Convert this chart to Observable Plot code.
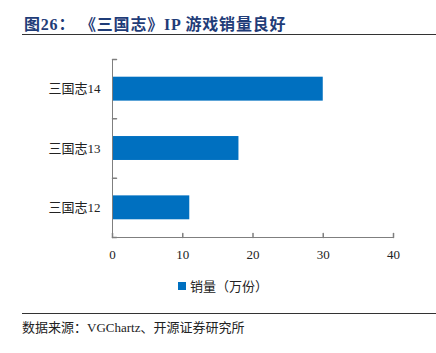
<!DOCTYPE html>
<html>
<head>
<meta charset="utf-8">
<script src="https://cdn.jsdelivr.net/npm/d3@7"></script>
<script src="https://cdn.jsdelivr.net/npm/@observablehq/plot@0.6"></script>
<style>
  html, body { margin: 0; padding: 0; background: #fff; }
  #wrap { position: relative; width: 436px; height: 353px; overflow: hidden; font-family: "Liberation Serif", "Noto Sans CJK SC", serif; }
  #title { position: absolute; left: 24px; top: 11px; font-size: 16px; font-weight: bold; color: #1f3c78; white-space: nowrap; letter-spacing: 0.8px; }
  .hr { position: absolute; left: 22px; right: 0; height: 1px; background: #333; }
  #chart { position: absolute; left: 0; top: 45px; }
  #legend { position: absolute; left: 178px; top: 276px; font-size: 13px; color: #222; white-space: nowrap; display: flex; align-items: center; }
  #legend .sw { width: 8px; height: 8px; background: #0070c0; margin-right: 4px; }
  #caption { position: absolute; left: 22px; top: 317px; font-size: 13px; color: #222; white-space: nowrap; }
</style>
</head>
<body>
<div id="wrap">
  <div id="title">图26：&nbsp;《三国志》IP 游戏销量良好</div>
  <div class="hr" style="top:34px"></div>
  <div id="chart"></div>
  <div id="legend"><span class="sw"></span><span>销量（万份）</span></div>
  <div class="hr" style="top:313px"></div>
  <div id="caption">数据来源：VGChartz、开源证券研究所</div>
</div>
<script>
const games = ["三国志12", "三国志13", "三国志14"];
const sales = [11, 18, 30];
const xTicks = [0, 10, 20, 30, 40];

const data = games.map((g, i) => ({ game: g, i, value: sales[i] }));
const axisColor = "#7f7f7f";
const tickLine = { draw(context, l) { context.moveTo(0, 0); context.lineTo(0, -l); } };

const chart = Plot.plot({
  width: 436,
  height: 220,
  marginLeft: 112,
  marginRight: 43,
  marginTop: 14,
  marginBottom: 28,
  style: { fontFamily: "'Liberation Serif', 'Noto Sans CJK SC', serif", fontSize: "13px", color: "#222", background: "transparent" },
  x: { type: "linear", domain: [0, 40], label: null },
  y: { type: "linear", domain: [0, games.length], label: null },
  marks: [
    Plot.rect(data, { x1: 0, x2: "value", y1: d => d.i, y2: d => d.i + 1, insetTop: 17.7, insetBottom: 17.7, fill: "#0070c0" }),
    Plot.ruleX([0], { stroke: axisColor }),
    Plot.ruleY([0], { stroke: axisColor }),
    Plot.vector(xTicks, { x: d => d, y: 0, length: 4, rotate: 0, anchor: "start", shape: tickLine, stroke: axisColor }),
    Plot.vector(d3.range(games.length + 1), { x: 0, y: d => d, length: 4, rotate: 90, anchor: "start", shape: tickLine, stroke: axisColor }),
    Plot.axisX({ ticks: xTicks, tickSize: 0, tickPadding: 12, tickFormat: d => String(d), fontSize: 13, fill: "#222", label: null }),
    Plot.axisY({ ticks: games.map((g, i) => i + 0.5), tickSize: 0, tickPadding: 12, tickFormat: v => games[Math.floor(v)], fontSize: 13, fill: "#222", label: null })
  ]
});
document.getElementById("chart").appendChild(chart);
</script>
</body>
</html>
